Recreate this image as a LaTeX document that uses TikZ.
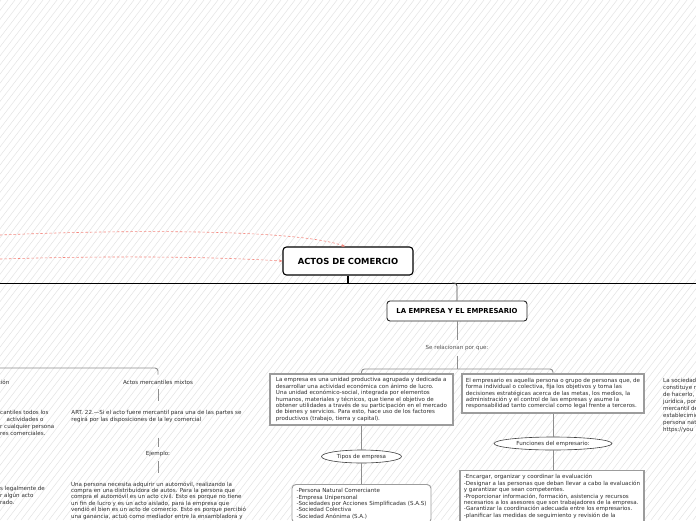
\documentclass[tikz,border=0pt]{standalone}
\usepackage{fontspec}
\setmainfont{DejaVu Sans}
\usetikzlibrary{arrows.meta,shapes.geometric}
\definecolor{ink}{HTML}{2E2E2E}
\definecolor{midgray}{HTML}{555555}
\definecolor{grayline}{HTML}{8E8E8E}
\definecolor{boxgray}{HTML}{9C9C9C}
\definecolor{hatch}{HTML}{E2E2E2}
\definecolor{relred}{HTML}{F4877E}
\newcommand{\smalltxt}{\fontsize{5.55}{6.4}\selectfont}
\newcommand{\fragtxt}{\fontsize{5.55}{6.9}\selectfont}
\tikzset{
  topic/.style={draw=black, line width=1.1pt, rounded corners=3.5pt, fill=white, text=black, font=\fontsize{8.4}{10}\selectfont\bfseries},
  subtopic/.style={draw=black!85, line width=0.9pt, rounded corners=3pt, fill=white, text=black, font=\fontsize{6.9}{8}\selectfont\bfseries},
  txt/.style={text=ink, font=\smalltxt, inner sep=0pt},
  para/.style={txt, align=left},
  defbox/.style={draw=boxgray, line width=1.1pt, fill=white, text=ink, font=\smalltxt, align=left, inner xsep=3pt, inner ysep=3pt},
  listbox/.style={defbox, rounded corners=4pt, line width=0.9pt},
  oval/.style={ellipse, draw=black!75, line width=0.6pt, fill=white, text=ink, font=\smalltxt, inner sep=0pt},
  mainline/.style={draw=black, line width=0.9pt},
  stem/.style={draw=black, line width=1.4pt},
  branch/.style={draw=black!70, line width=0.9pt},
  sub/.style={draw=grayline, line width=0.9pt},
  hatchline/.style={draw=hatch, line width=0.45pt},
  relarrow/.style={draw=relred, line width=0.6pt, dash pattern=on 2.5pt off 2pt, -{Stealth[length=3.5pt,width=3pt]}}
}

\begin{document}
\begin{tikzpicture}[x=1pt,y=-1pt]
  \useasboundingbox (0,0) rectangle (696,520);
  \clip (0,0) rectangle (696,520);
  \fill[white] (0,0) rectangle (696,520);
  \foreach \k in {-60,...,100}
    \draw[hatchline] (\k*7,520) -- ++(400,-520);

  % main topic
  \node[topic, minimum width=130pt, minimum height=28pt] (actos) at (348,261) {ACTOS DE COMERCIO};
  \coordinate (hL) at (0,283);
  \coordinate (hR) at (696,283);
  \draw[mainline] (hL) -- (hR);
  \draw[stem] (actos.south) -- (actos.south |- hL);

  % relations coming in from the left
  \coordinate (refA) at (0,235);
  \coordinate (refB) at (0,259);
  \draw[relarrow] (refA) .. controls (140,229) and (300,230) .. ([xshift=-3pt]actos.north);
  \draw[relarrow] (refB) .. controls (100,256) and (200,256) .. (actos.west);

  % la empresa y el empresario
  \node[subtopic, minimum width=140pt, minimum height=20pt] (empresa) at (457,311) {LA EMPRESA Y EL EMPRESARIO};
  \draw[branch, rounded corners=3pt] ([xshift=-5pt]empresa.north |- hL) -| (empresa.north);

  \node[txt, text=midgray] (porque) at (457,348) {Se relacionan por que:};
  \draw[sub, shorten >=5pt] (empresa.south) -- (porque.north);
  \coordinate (bar) at (457,369);
  \draw[sub, shorten <=5pt] (porque.south) -- (bar);

  \node[defbox, minimum width=183pt, minimum height=51pt] (empdef) at (361.5,399.5) {La empresa es una unidad productiva agrupada y dedicada a\\desarrollar una actividad económica con ánimo de lucro.\\Una unidad económico-social, integrada por elementos\\humanos, materiales y técnicos, que tiene el objetivo de\\obtener utilidades a través de su participación en el mercado\\de bienes y servicios. Para esto, hace uso de los factores\\productivos (trabajo, tierra y capital).};
  \node[defbox, minimum width=182pt, minimum height=39pt] (emprdef) at (553,393.5) {El empresario es aquella persona o grupo de personas que, de\\forma individual o colectiva, fija los objetivos y toma las\\decisiones estratégicas acerca de las metas, los medios, la\\administración y el control de las empresas y asume la\\responsabilidad tanto comercial como legal frente a terceros.};
  \draw[sub, rounded corners=3pt] (empdef.north) |- (bar) -| (emprdef.north);

  \node[oval, minimum width=80pt, minimum height=13pt] (tipos) at (361.5,456.5) {Tipos de empresa};
  \draw[sub] (empdef.south) -- (tipos.north);
  \node[listbox, anchor=north, minimum width=139pt, inner ysep=4pt] (tiposlist) at (361.5,484) {-Persona Natural Comerciante\\-Empresa Unipersonal\\-Sociedades por Acciones Simplificadas (S.A.S)\\-Sociedad Colectiva\\-Sociedad Anónima (S.A.)};
  \draw[sub] (tipos.south) -- (tiposlist.north);

  \node[oval, minimum width=118pt, minimum height=13pt] (funciones) at (553,443.5) {Funciones del empresario:};
  \draw[sub] (emprdef.south) -- (funciones.north);
  \node[defbox, anchor=north, minimum width=184pt, inner ysep=4pt] (funclist) at (552,470) {-Encargar, organizar y coordinar la evaluación\\-Designar a las personas que deban llevar a cabo la evaluación\\y garantizar que sean competentes.\\-Proporcionar información, formación, asistencia y recursos\\necesarios a los asesores que son trabajadores de la empresa.\\-Garantizar la coordinación adecuada entre los empresarios.\\-planificar las medidas de seguimiento y revisión de la};
  \draw[sub] (funciones.south) -- (funciones.south |- funclist.north);

  % actos mercantiles mixtos
  \coordinate (lbar) at (0,368);
  \node[txt] (mixtos) at (158,382) {Actos mercantiles mixtos};
  \draw[sub, rounded corners=3pt, shorten >=5pt] (lbar) -| (mixtos.north);
  \node[para, anchor=north] (art) at (156.5,410.5) {ART. 22.—Si el acto fuere mercantil para una de las partes se\\regirá por las disposiciones de la ley comercial};
  \draw[sub, shorten <=5pt, shorten >=9.5pt] (mixtos.south) -- (mixtos.south |- art.north);
  \node[txt] (ejemplo) at (158,454) {Ejemplo:};
  \draw[sub, shorten <=15pt, shorten >=4.5pt] (ejemplo.north |- art.south) -- (ejemplo.north);
  \node[para, anchor=north] (caso) at (158.5,481.5) {Una persona necesita adquirir un automóvil, realizando la\\compra en una distribuidora de autos. Para la persona que\\compra el automóvil es un acto civil. Esto es porque no tiene\\un fin de lucro y es un acto aislado, para la empresa que\\vendió el bien es un acto de comercio. Esto es porque percibió\\una ganancia, actuó como mediador entre la ensambladora y};
  \draw[sub, shorten <=4.5pt, shorten >=8.5pt] (ejemplo.south) -- (ejemplo.south |- caso.north);

  % cut-off texts at the borders
  \node[txt, anchor=east] (fragA) at (9.5,382) {ción};
  \node[para, font=\fragtxt, anchor=north west] (fragB) at (0,410.5) {cantiles todos los\\\hspace*{6.5pt}actividades o\\r cualquier persona\\res comerciales.};
  \node[para, font=\fragtxt, anchor=north west] (fragC) at (0,486.5) {s legalmente de\\r algún acto\\rado.};
  \node[para, font=\fragtxt, anchor=north west] (fragD) at (663,378.5) {La sociedad\\constituye r\\de hacerlo,\\jurídica, por\\mercantil de\\establecimie\\persona nat\\https://you};
\end{tikzpicture}
\end{document}
